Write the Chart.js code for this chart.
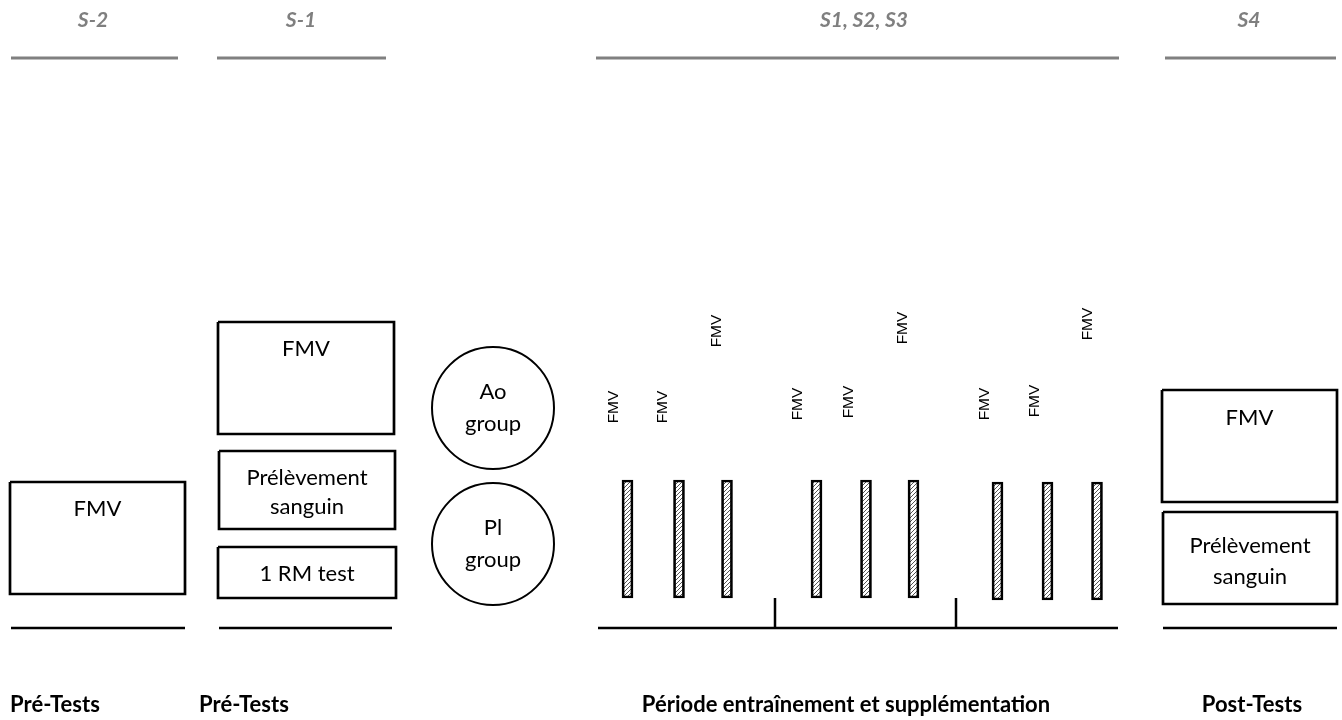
<!DOCTYPE html>
<html>
<head>
<meta charset="utf-8">
<script src="https://cdn.jsdelivr.net/npm/chart.js@4/dist/chart.umd.min.js"></script>
<style>
  html, body { margin: 0; padding: 0; background: #fff; }
  canvas { display: block; }
</style>
</head>
<body>
<canvas id="diagram" width="1342" height="720"></canvas>
<script>
// phases (top headers + gray rules, bottom rules + titles)
const phaseNames = ['S-2', 'S-1', 'S1, S2, S3', 'S4'];
const phaseNameX = [93, 301, 864, 1249];
const phaseRules = [[11, 178], [217, 386], [596, 1119], [1165, 1336]];
const phaseTitles = ['Pré-Tests', 'Pré-Tests', 'Période entraînement et supplémentation', 'Post-Tests'];
const phaseTitleX = [55, 244, 846, 1252];
const baseRules = [[11, 185], [219, 392], [598, 1118], [1163, 1337]];
const weekTicks = [775, 956];

// test boxes
const boxLabels = [['FMV'], ['FMV'], ['Prélèvement', 'sanguin'], ['1 RM test'], ['FMV'], ['Prélèvement', 'sanguin']];
const boxX = [[10, 185], [218, 394], [219, 395], [218, 396], [1162, 1337], [1163, 1337]];
const boxY = [[482, 594], [322, 434], [451, 529], [547, 598], [390, 502], [512, 604]];
const boxTextY = [[509], [349], [478, 507], [574], [418], [546, 577]];

// groups
const groupLabels = [['Ao', 'group'], ['Pl', 'group']];
const groupX = [493, 493];
const groupY = [408, 544];

// training sessions
const sessionX = [627.5, 679, 727, 816.5, 866, 913.5, 997.5, 1047.5, 1097];
const sessionTop = [480, 480, 480, 480, 480, 480, 482, 482, 482];
const sessionBottom = [598, 598, 598, 598, 598, 598, 600, 600, 600];
const fmvX = [614, 663, 717, 798, 849, 903, 985, 1035, 1088];
const fmvY = [407, 407, 331, 404, 402, 328, 404, 401, 324];

const canvas = document.getElementById('diagram');
const ctx = canvas.getContext('2d');

function makeHatch() {
  const c = document.createElement('canvas');
  c.width = 4;
  c.height = 4;
  const g = c.getContext('2d');
  g.fillStyle = '#fff';
  g.fillRect(0, 0, 4, 4);
  g.strokeStyle = '#555';
  g.lineWidth = 1;
  g.beginPath();
  g.moveTo(0, 4); g.lineTo(4, 0);
  g.moveTo(-1, 1); g.lineTo(1, -1);
  g.moveTo(3, 5); g.lineTo(5, 3);
  g.stroke();
  return ctx.createPattern(c, 'repeat');
}

function segment(x0, x1, y0, y1, color, width) {
  return {
    type: 'scatter',
    data: [{ x: x0, y: y0 }, { x: x1, y: y1 }],
    showLine: true,
    borderColor: color,
    borderWidth: width,
    pointRadius: 0,
    fill: false,
    clip: false,
  };
}

function outline(xs, ys) {
  return {
    type: 'scatter',
    data: [
      { x: xs[0], y: ys[0] }, { x: xs[1], y: ys[0] },
      { x: xs[1], y: ys[1] }, { x: xs[0], y: ys[1] }, { x: xs[0], y: ys[0] },
    ],
    showLine: true,
    borderColor: '#000',
    borderWidth: 2.7,
    borderJoinStyle: 'miter',
    pointRadius: 0,
    fill: false,
    clip: false,
  };
}

const datasets = [];
phaseRules.forEach(r => datasets.push(segment(r[0], r[1], 58, 58, '#808080', 3)));
baseRules.forEach(r => datasets.push(segment(r[0], r[1], 628, 628, '#000', 2.5)));
weekTicks.forEach(x => datasets.push(segment(x, x, 598, 628, '#000', 2.5)));
boxX.forEach((xs, i) => datasets.push(outline(xs, boxY[i])));

datasets.push({
  type: 'scatter',
  data: groupX.map((x, i) => ({ x, y: groupY[i] })),
  pointRadius: 61,
  pointBackgroundColor: 'rgba(0,0,0,0)',
  pointBorderColor: '#000',
  pointBorderWidth: 2,
  clip: false,
});

datasets.push({
  type: 'bar',
  data: sessionX.map((x, i) => ({ x, y: [sessionTop[i], sessionBottom[i]] })),
  barThickness: 11,
  backgroundColor: makeHatch(),
  borderColor: '#000',
  borderWidth: 2.7,
  borderSkipped: false,
});

const labelPlugin = {
  id: 'labels',
  afterDatasetsDraw(chart) {
    const { ctx: c, scales: { x, y } } = chart;
    c.save();
    c.textAlign = 'center';
    c.textBaseline = 'middle';

    c.fillStyle = '#7f7f7f';
    c.font = 'italic bold 21px Lato';
    phaseNames.forEach((t, i) => c.fillText(t, x.getPixelForValue(phaseNameX[i]), y.getPixelForValue(20)));

    c.fillStyle = '#000';
    c.font = 'bold 22px Lato';
    phaseTitles.forEach((t, i) => c.fillText(t, x.getPixelForValue(phaseTitleX[i]), y.getPixelForValue(705)));

    c.font = '22px Lato';
    boxLabels.forEach((lines, i) => {
      const cx = x.getPixelForValue((boxX[i][0] + boxX[i][1]) / 2);
      lines.forEach((t, j) => c.fillText(t, cx, y.getPixelForValue(boxTextY[i][j])));
    });

    groupLabels.forEach((lines, i) => {
      const cx = x.getPixelForValue(groupX[i]);
      c.fillText(lines[0], cx, y.getPixelForValue(groupY[i] - 16));
      c.fillText(lines[1], cx, y.getPixelForValue(groupY[i] + 16));
    });

    c.font = '15.5px "Liberation Sans", Arial, sans-serif';
    fmvX.forEach((fx, i) => {
      c.save();
      c.translate(x.getPixelForValue(fx), y.getPixelForValue(fmvY[i]));
      c.rotate(-Math.PI / 2);
      c.fillText('FMV', 0, 0);
      c.restore();
    });
    c.restore();
  },
};

new Chart(canvas, {
  type: 'scatter',
  data: { datasets },
  options: {
    responsive: false,
    animation: false,
    layout: { padding: 0, autoPadding: false },
    plugins: { legend: { display: false }, tooltip: { enabled: false } },
    scales: {
      x: { type: 'linear', min: 0, max: 1342, offset: false, display: false },
      y: { type: 'linear', min: 0, max: 720, reverse: true, offset: false, display: false },
    },
  },
  plugins: [labelPlugin],
});
</script>
</body>
</html>
